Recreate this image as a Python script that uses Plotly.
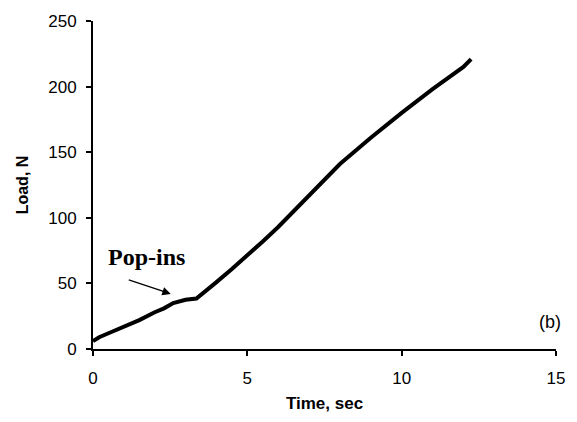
import plotly.graph_objects as go

time_s = [0, 0.2, 0.5, 1.0, 1.5, 2.0, 2.3, 2.6, 2.8, 3.0, 3.35, 3.7, 4.0, 4.5, 5.0, 5.5, 6.0, 7.0, 8.0, 9.0, 10.0, 11.0, 12.0, 12.25]
load_n = [6, 9, 12, 17, 22, 28, 31, 35, 36.5, 37.5, 38.5, 45, 51, 61, 71, 82, 93, 117, 141, 161, 180, 198, 215, 221]

x_ticks = [0, 5, 10, 15]
y_ticks = [0, 50, 100, 150, 200, 250]

fig = go.Figure()
fig.add_trace(go.Scatter(x=time_s, y=load_n, mode="lines",
                         line=dict(color="black", width=4), showlegend=False))

fig.add_annotation(x=2.52, y=42, ax=1.11, ay=53, xref="x", yref="y", axref="x", ayref="y",
                   text="", showarrow=True, arrowhead=2, arrowsize=1.3, arrowwidth=1.3, arrowcolor="black")
fig.add_annotation(x=1.72, y=70, xref="x", yref="y", text="<b>Pop-ins</b>", showarrow=False,
                   font=dict(family="Liberation Serif", size=24, color="black"))
fig.add_annotation(x=14.8, y=20.5, xref="x", yref="y", text="(b)", showarrow=False,
                   font=dict(family="Liberation Sans", size=18, color="black"))

axis_common = dict(showgrid=False, zeroline=False, showline=True, linecolor="black", linewidth=2,
                   ticks="outside", ticklen=5, tickwidth=2, tickcolor="black",
                   tickfont=dict(family="Liberation Sans", size=17, color="black"))
fig.update_xaxes(range=[0, 15], tickvals=x_ticks, ticklabelstandoff=8,
                 title=dict(text="<b>Time, sec</b>", font=dict(family="Liberation Sans", size=17, color="black"), standoff=10),
                 **axis_common)
fig.update_yaxes(range=[0, 250], tickvals=y_ticks, ticklabelstandoff=6,
                 title=dict(text="<b>Load, N</b>", font=dict(family="Liberation Sans", size=16, color="black"), standoff=16),
                 **axis_common)

fig.update_layout(width=577, height=422, margin=dict(l=93, r=12, t=21, b=73),
                  plot_bgcolor="white", paper_bgcolor="white")

fig.write_html("out.html")
